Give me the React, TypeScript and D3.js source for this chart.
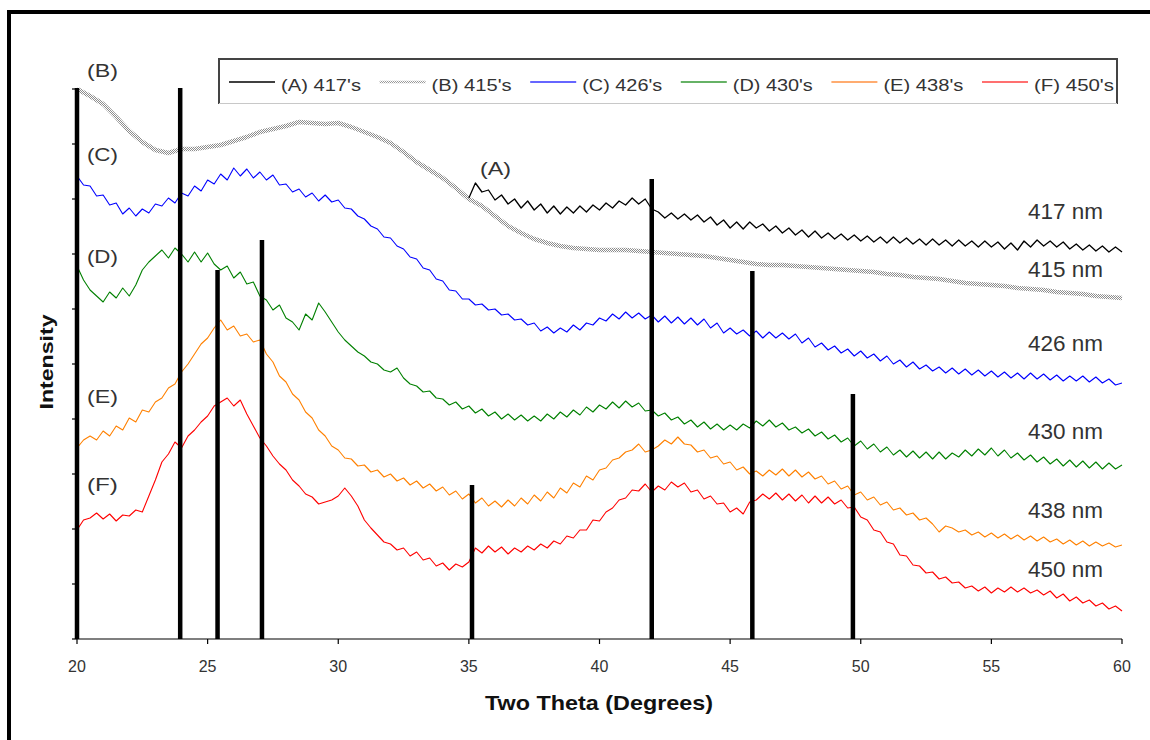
import React from 'react';
import * as d3 from 'd3';

// Two-theta sampling
const FINE_STEP = 0.25;
const COARSE_STEP = 0.5;

// (A) 417's — from 35°, step 0.25°
const seriesA = [
  441,456,447,449,439,444,435,440,431,438,429,435,426,433,425,432,426,433,427,434,
  429,436,431,438,434,441,435,440,430,427,421,426,420,425,419,424,417,422,414,419,
  411,417,410,417,411,415,408,413,406,411,404,409,402,408,401,406,400,405,399,404,
  398,403,397,402,396,402,396,401,395,400,394,400,394,399,393,399,393,398,392,398,
  392,397,390,396,389,398,392,399,393,398,392,397,390,395,389,394,388,393,387,392,
  387,
];
// (B) 415's — from 20°, step 0.5°
const seriesB = [
  550,543,535,522,508,497,489,486,490,490,
  492,494,498,502,507,510,513,517,516,515,
  516,512,507,502,496,487,477,469,461,451,
  440,433,423,413,406,400,396,393,391,390,
  389,389,389,388,387,386,385,384,383,381,
  379,377,375,374,374,373,372,371,370,369,
  368,367,365,364,362,361,360,358,356,355,
  354,353,351,350,349,347,346,345,343,342,
  341,
];
// (C) 426's — from 20°, step 0.25°
const seriesC = [
  463,454,453,443,444,434,436,425,431,423,430,426,435,433,441,436,446,443,453,448,
  459,455,465,459,471,463,470,461,467,459,464,454,455,447,450,442,446,438,444,437,
  439,431,430,423,420,413,410,402,401,393,390,382,380,371,369,360,358,349,348,340,
  340,334,335,329,330,324,325,319,320,314,316,308,312,306,311,307,314,309,316,314,
  321,318,325,320,327,321,326,320,324,317,323,316,322,315,321,314,320,311,316,306,
  311,305,309,303,308,301,307,301,306,300,305,296,301,292,296,289,293,286,290,283,
  288,281,285,278,283,275,279,272,277,270,274,268,272,266,271,265,270,264,269,263,
  268,262,267,261,266,260,266,260,265,259,264,258,263,258,263,257,262,256,260,254,
  256,
];
// (D) 430's
const seriesD = [
  373,359,349,343,337,347,341,351,343,354,369,377,383,389,381,391,385,377,387,377,
  386,375,369,373,361,367,355,357,343,339,329,334,321,317,309,325,319,336,327,317,
  307,299,293,287,283,277,275,269,267,271,261,255,253,247,248,241,240,234,237,230,
  233,226,230,223,227,220,225,219,224,218,223,218,225,220,227,222,229,224,232,227,
  234,230,237,231,238,232,236,228,229,223,226,219,222,215,219,212,217,210,215,209,
  214,209,215,211,218,213,219,212,216,209,212,206,210,203,207,200,204,197,201,193,
  198,190,195,187,192,184,189,182,188,181,187,180,187,180,186,182,189,183,190,184,
  191,183,189,181,186,179,184,177,182,175,180,173,179,172,178,171,177,170,176,170,
  174,
];
// (E) 438's
const seriesE = [
  191,199,203,199,208,203,213,209,221,217,229,227,237,241,251,255,267,275,285,295,
  301,311,319,309,313,303,305,297,299,285,277,263,257,245,239,227,221,209,203,193,
  189,181,180,173,174,167,169,162,165,158,161,154,158,151,155,148,152,144,148,140,
  145,136,141,133,138,132,139,133,141,135,144,138,147,141,151,146,156,152,163,159,
  169,171,179,181,187,189,195,187,189,193,199,195,202,195,194,187,189,181,183,175,
  177,169,172,165,168,163,169,164,170,163,169,162,167,160,163,155,158,150,153,144,
  147,139,142,134,137,129,131,124,126,119,121,115,107,113,111,107,109,104,107,102,
  106,101,105,100,104,99,103,98,102,97,100,95,99,94,98,93,97,93,96,92,
  94,
];
// (F) 450's
const seriesF = [
  109,119,121,126,120,125,118,124,123,129,127,143,159,177,185,197,191,203,209,217,
  223,233,237,241,233,239,225,213,201,193,183,175,169,159,153,145,142,135,137,139,
  143,151,143,133,119,111,104,97,95,89,91,83,87,79,81,73,76,69,75,72,
  77,91,86,93,87,92,85,91,87,93,89,95,91,98,95,103,101,109,109,119,
  118,127,131,139,141,149,148,155,147,153,149,157,152,156,147,149,140,143,135,136,
  127,131,125,137,139,145,140,146,139,145,138,144,136,143,136,142,135,139,131,132,
  122,119,109,107,97,95,84,83,74,73,66,67,60,62,56,57,51,53,48,52,
  46,51,47,52,47,51,46,49,44,48,41,45,38,42,36,39,33,36,30,33,
  28,
];

// Reference peak lines (two theta, intensity)
const peakThetas = [20, 23.95, 25.38, 27.08, 35.12, 42.0, 45.85, 49.7];
const peakHeights = [551, 551, 369, 399, 154, 460, 368, 245];

const legendLabels = ["(A) 417's", "(B) 415's", "(C) 426's", "(D) 430's", "(E) 438's", "(F) 450's"];
const curveLetters = ['(A)', '(B)', '(C)', '(D)', '(E)', '(F)'];
const letterThetas = [35.43, 20.38, 20.38, 20.38, 20.38, 20.38];
const letterLevels = [464, 562, 478, 376, 236, 148];
const nmLabels = ['417 nm', '415 nm', '426 nm', '430 nm', '438 nm', '450 nm'];
const nmLevels = [420, 362, 288, 200, 121, 62];
const nmTheta = 56.4;

const xTicks = [20, 25, 30, 35, 40, 45, 50, 55, 60];
const yTicks = [0, 55, 110, 165, 220, 275, 330, 385, 440, 495, 550];

const FONT = "'Liberation Sans', Arial, Helvetica, sans-serif";

export default function App() {
  const x = d3.scaleLinear().domain([20, 60]).range([77, 1122]);
  const y = d3.scaleLinear().domain([0, 550]).range([639, 89]);

  const series = [
    { values: seriesA, start: 35, step: FINE_STEP, color: '#000000', width: 1.3 },
    { values: seriesB, start: 20, step: COARSE_STEP, color: 'url(#dotpat)', width: 4.5 },
    { values: seriesC, start: 20, step: FINE_STEP, color: '#0000ff', width: 1.1 },
    { values: seriesD, start: 20, step: FINE_STEP, color: '#008000', width: 1.1 },
    { values: seriesE, start: 20, step: FINE_STEP, color: '#ff8000', width: 1.1 },
    { values: seriesF, start: 20, step: FINE_STEP, color: '#ff0000', width: 1.1 },
  ];
  const legendColors = ['#000000', 'url(#dotpatL)', '#3333ff', '#339933', '#ff9040', '#ff4040'];

  const makePath = (s: typeof series[number]) =>
    d3
      .line<number>()
      .x((_, i) => x(s.start + i * s.step))
      .y((d) => y(d))(s.values) || '';

  const drawOrder = [1, 0, 2, 3, 4, 5];

  return (
    <svg
      width={1150}
      height={740}
      style={{ position: 'absolute', left: 0, top: 0, background: '#fff' }}
      fontFamily={FONT}
    >
      <defs>
        <pattern id="dotpat" patternUnits="userSpaceOnUse" width={2} height={2}>
          <rect x={0} y={0} width={2} height={2} fill="#ffffff" />
          <rect x={0} y={0} width={1} height={1} fill="#8c8c8c" />
          <rect x={1} y={1} width={1} height={1} fill="#8c8c8c" />
        </pattern>
        <pattern id="dotpatL" patternUnits="userSpaceOnUse" width={2} height={2}>
          <rect x={0} y={0} width={2} height={2} fill="#ffffff" />
          <rect x={0} y={0} width={1} height={1} fill="#999999" />
          <rect x={1} y={1} width={1} height={1} fill="#999999" />
        </pattern>
      </defs>
      <rect x={0} y={0} width={1150} height={740} fill="#fff" />

      {/* outer frame */}
      <line x1={7} x2={1150} y1={12} y2={12} stroke="#000" strokeWidth={4} />
      <line x1={9} x2={9} y1={10} y2={740} stroke="#000" strokeWidth={4} />

      {/* legend box */}
      <rect x={219} y={59} width={898} height={44} fill="#fff" stroke="none" />
      <line x1={219} x2={219} y1={58} y2={104} stroke="#444" strokeWidth={2} />
      <line x1={218} x2={1118} y1={59} y2={59} stroke="#444" strokeWidth={2} />
      <line x1={1117} x2={1117} y1={58} y2={104} stroke="#444" strokeWidth={2} />
      <line x1={219} x2={1117} y1={103.5} y2={103.5} stroke="#c8c8c8" strokeWidth={1} />
      {legendLabels.map((lab, i) => {
        const sx = 229 + i * 150.6;
        return (
          <g key={lab}>
            <line
              x1={sx}
              x2={sx + 46}
              y1={82}
              y2={82}
              stroke={legendColors[i]}
              strokeWidth={i === 1 ? 2.5 : 1.4}
            />
            <text
              x={sx + 52}
              y={91}
              fontSize={17}
              fill="#333"
              textLength={80}
              lengthAdjust="spacingAndGlyphs"
            >
              {lab}
            </text>
          </g>
        );
      })}

      {/* axes */}
      <line x1={x(20)} x2={x(60)} y1={y(0)} y2={y(0)} stroke="#000" strokeWidth={1.2} />
      <line x1={x(20)} x2={x(20)} y1={y(0)} y2={y(550)} stroke="#000" strokeWidth={1.2} />
      {xTicks.map((t) => (
        <g key={'xt' + t}>
          <line x1={x(t)} x2={x(t)} y1={y(0)} y2={y(0) + 5} stroke="#000" strokeWidth={1.2} />
          <text x={x(t)} y={672} fontSize={16} fill="#333" textAnchor="middle">
            {t}
          </text>
        </g>
      ))}
      {yTicks.map((t) => (
        <line key={'yt' + t} x1={x(20) - 5} x2={x(20)} y1={y(t)} y2={y(t)} stroke="#000" strokeWidth={1.2} />
      ))}

      {/* curves */}
      {drawOrder.map((k) => {
        const s = series[k];
        return (
          <path
            key={'s' + k}
            d={makePath(s)}
            fill="none"
            stroke={s.color}
            strokeWidth={s.width}
            strokeLinejoin="round"
          />
        );
      })}

      {/* reference peak lines */}
      {peakThetas.map((t, i) => (
        <line
          key={'pk' + i}
          x1={x(t)}
          x2={x(t)}
          y1={y(0)}
          y2={y(peakHeights[i])}
          stroke="#000"
          strokeWidth={4.5}
        />
      ))}

      {/* curve letters */}
      {curveLetters.map((c, i) => (
        <text
          key={c}
          x={x(letterThetas[i])}
          y={y(letterLevels[i])}
          fontSize={19}
          fill="#333"
          textLength={31}
          lengthAdjust="spacingAndGlyphs"
        >
          {c}
        </text>
      ))}

      {/* wavelength labels */}
      {nmLabels.map((c, i) => (
        <text
          key={c}
          x={x(nmTheta)}
          y={y(nmLevels[i])}
          fontSize={21.5}
          fill="#333"
          textLength={75}
          lengthAdjust="spacingAndGlyphs"
        >
          {c}
        </text>
      ))}

      {/* axis titles */}
      <text
        x={599}
        y={710}
        fontSize={21}
        fontWeight="bold"
        fill="#111"
        textAnchor="middle"
        textLength={228}
        lengthAdjust="spacingAndGlyphs"
      >
        Two Theta (Degrees)
      </text>
      <text
        transform="translate(53,362) rotate(-90)"
        fontSize={19}
        fontWeight="bold"
        fill="#111"
        textAnchor="middle"
        textLength={95}
        lengthAdjust="spacingAndGlyphs"
      >
        Intensity
      </text>
    </svg>
  );
}
